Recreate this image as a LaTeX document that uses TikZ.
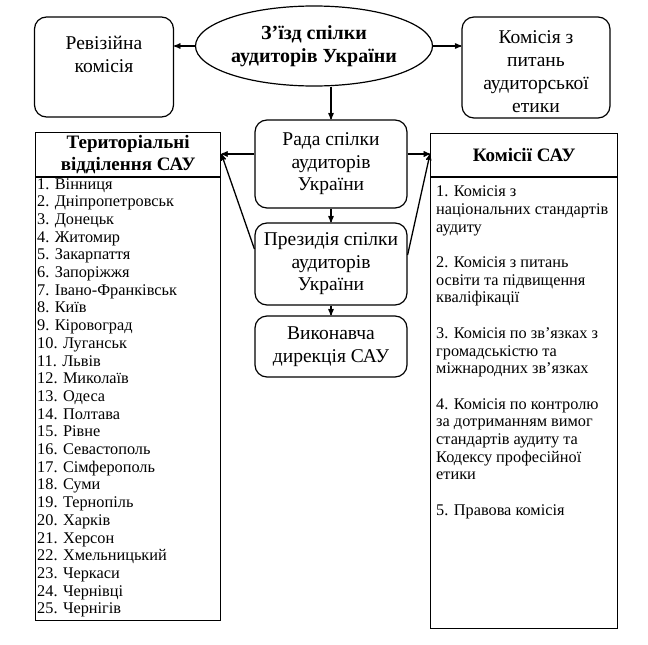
\documentclass[tikz,border=0pt]{standalone}
\usepackage{fontspec}
\setmainfont{Liberation Serif}
\usepackage{tikz}
\usetikzlibrary{arrows,shapes,positioning,calc}
\tikzstyle{orgbox}=[draw, rounded corners=12pt, line width=1.2pt, font=\fontsize{19.5}{22.5}\selectfont, align=center]
\tikzstyle{congress}=[draw, ellipse, line width=1.2pt, inner sep=0pt]
\tikzstyle{listbox}=[draw, line width=1.4pt]
\tikzstyle{boxtext}=[font=\fontsize{19.5}{23}\selectfont, align=center]
\tikzstyle{headtext}=[font=\fontsize{19}{22}\selectfont\bfseries, align=center]
\tikzstyle{listitem}=[font=\fontsize{16.3}{17.6}\selectfont, align=left, inner sep=0pt]
\tikzstyle{orgarrow}=[->, >=stealth', line width=1.3pt]

\begin{document}
\begin{tikzpicture}[x=1pt, y=-1pt]
    \useasboundingbox (0,0) rectangle (648,645);

    % Верхній ряд
    \node[congress, minimum width=237pt, minimum height=80pt] (zizd) at (314,46) {};
    \node[boxtext, font=\fontsize{20}{23}\selectfont\bfseries] (zizdtxt) at (zizd) {З’їзд спілки\\аудиторів України};
    \node[orgbox, minimum width=139pt, minimum height=100pt] (rev) at (104,67) {};
    \node[boxtext] (revtxt) at (104,54) {Ревізійна\\комісія};
    \node[orgbox, minimum width=148pt, minimum height=101pt] (etyky) at (536,67.5) {};
    \node[boxtext] (etykytxt) at (536,72) {Комісія з\\питань\\аудиторської\\етики};

    % Центральна колонка
    \node[orgbox, minimum width=152pt, minimum height=88pt] (rada) at (331,164) {Рада спілки\\аудиторів\\України};
    \node[orgbox, minimum width=152pt, minimum height=82pt] (prez) at (331,264) {Президія спілки\\аудиторів\\України};
    \node[orgbox, minimum width=152pt, minimum height=61pt] (vyk) at (331,346.5) {Виконавча\\дирекція САУ};

    % Територіальні відділення
    \node[listbox, minimum width=185pt, minimum height=488pt, anchor=north west] (ter) at (35,132) {};
    \draw[listbox] ($(ter.north west)+(0,45)$) -- ($(ter.north east)+(0,45)$);
    \node[headtext] (terhead) at ($(ter.north)+(0,23)$) {Територіальні\\відділення САУ};
    \foreach \city [count=\i] in {Вінниця, Дніпропетровськ, Донецьк, Житомир, Закарпаття,
        Запоріжжя, Івано-Франківськ, Київ, Кіровоград, Луганськ, Львів, Миколаїв, Одеса,
        Полтава, Рівне, Севастополь, Сімферополь, Суми, Тернопіль, Харків, Херсон,
        Хмельницький, Черкаси, Чернівці, Чернігів} {
      \node[listitem, anchor=base west] (city\i) at (37, 171.3+17.7*\i) {\i. \city};
    }

    % Комісії САУ
    \node[listbox, minimum width=187pt, minimum height=495pt, anchor=north west] (kom) at (430,133) {};
    \draw[listbox] ($(kom.north west)+(0,44)$) -- ($(kom.north east)+(0,44)$);
    \node[headtext] (komhead) at ($(kom.north)+(0,22)$) {Комісії САУ};
    \foreach \txt/\row [count=\k] in {%
        {1. Комісія з\\національних стандартів\\аудиту}/0,
        {2. Комісія з питань\\освіти та підвищення\\кваліфікації}/4,
        {3. Комісія по зв’язках з\\громадськістю та\\міжнародних зв’язках}/8,
        {4. Комісія по контролю\\за дотриманням вимог\\стандартів аудиту та\\Кодексу професійної\\етики}/12,
        {5. Правова комісія}/18} {
      \node[listitem, anchor=north west] (item\k) at (436, 186+17.7*\row) {\txt};
    }

    % Зв'язки
    \coordinate (terin) at ($(ter.north east)+(0,22)$);
    \coordinate (komin) at ($(kom.north west)+(0,21)$);
    \draw[orgarrow] (zizd.west) -- (zizd.west -| rev.east);
    \draw[orgarrow] (zizd.east) -- (zizd.east -| etyky.west);
    \draw[orgarrow] (zizd.south -| rada.north) -- (rada.north);
    \draw[orgarrow] (rada.south) -- (prez.north);
    \draw[orgarrow] (prez.south) -- (vyk.north);
    \draw[orgarrow] (rada.west |- terin) -- (terin);
    \draw[orgarrow] (rada.east |- komin) -- (komin);
    \draw[orgarrow] ([yshift=15pt]prez.west) -- (terin);
    \draw[orgarrow] ([yshift=9pt]prez.east) -- (komin);
\end{tikzpicture}
\end{document}
